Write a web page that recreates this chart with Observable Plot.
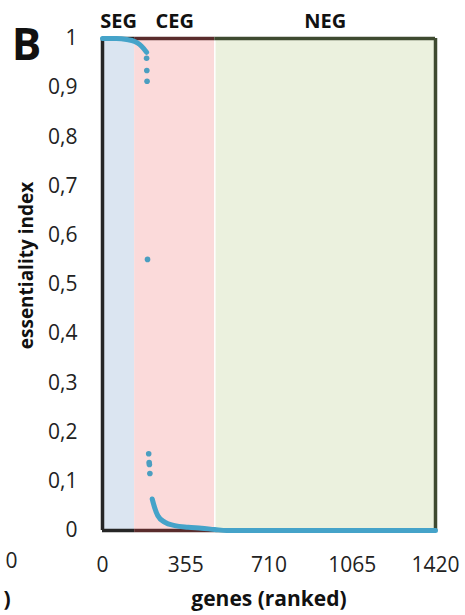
<!DOCTYPE html>
<html><head><meta charset="utf-8">
<script src="https://cdn.jsdelivr.net/npm/d3@7"></script>
<script src="https://cdn.jsdelivr.net/npm/@observablehq/plot@0.6"></script>
<style>body{margin:0;background:#fff;} #chart{width:465px;height:615px;}</style>
</head><body><div id="chart"></div>
<script>
// Regions (gene rank ranges)
const regionNames = ["SEG", "CEG", "NEG"];
const regionStart = [0, 137, 479];
const regionEnd = [137, 479, 1420];
const regionFill = ["#dbe5f1", "#fbdada", "#ebf1de"];
const regionStroke = ["#262626", "#5a2c2c", "#3e4a30"];

// Dense part of the ranked essentiality curve
const curveRank = [0, 60, 103, 137, 158, 175, 188];
const curveValue = [1, 1, 0.998, 0.994, 0.988, 0.98, 0.972];
// Isolated points
const dotRank = [188, 189, 190, 192, 197, 199, 200, 202];
const dotValue = [0.96, 0.935, 0.913, 0.551, 0.156, 0.138, 0.134, 0.116];
// Tail of the curve
const tailRank = [212, 222, 236, 265, 308, 365, 422, 479, 530, 1420];
const tailValue = [0.064, 0.047, 0.03, 0.017, 0.01, 0.0067, 0.0047, 0.002, 0, 0];

const xTicks = [0, 355, 710, 1065, 1420];
const yTicks = [0, 0.1, 0.2, 0.3, 0.4, 0.5, 0.6, 0.7, 0.8, 0.9, 1];
const yTickLabels = ["0", "0,1", "0,2", "0,3", "0,4", "0,5", "0,6", "0,7", "0,8", "0,9", "1"];

const regions = regionNames.map((n, i) => ({name: n, x1: regionStart[i], x2: regionEnd[i], fill: regionFill[i], stroke: regionStroke[i], mid: (regionStart[i] + regionEnd[i]) / 2}));
const curve = curveRank.map((r, i) => ({rank: r, value: curveValue[i]}));
const dots = dotRank.map((r, i) => ({rank: r, value: dotValue[i]}));
const tail = tailRank.map((r, i) => ({rank: r, value: tailValue[i]}));

const font = "'Open Sans', Lato, sans-serif";
const lineColor = "#45a3c9";

const chart = Plot.plot({
  width: 465,
  height: 615,
  marginLeft: 102,
  marginRight: 30,
  marginTop: 38,
  marginBottom: 85,
  style: {fontFamily: font, background: "#fff", color: "#222"},
  x: {domain: [0, 1420], axis: null},
  y: {domain: [0, 1], axis: null},
  marks: [
    Plot.rectX(regions, {x1: "x1", x2: "x2", y1: 0, y2: 1, fill: d => d.fill}),
    Plot.ruleX([479], {y1: 0.004, y2: 0.996, stroke: "#fff", strokeWidth: 1.5}),
    Plot.ruleY(regions, {y: 1, x1: "x1", x2: "x2", stroke: d => d.stroke, strokeWidth: 3.5}),
    Plot.ruleY(regions, {y: 0, x1: "x1", x2: "x2", stroke: d => d.stroke, strokeWidth: 3.5}),
    Plot.ruleX([0], {y1: 0, y2: 1, stroke: regionStroke[0], strokeWidth: 3.5}),
    Plot.ruleX([1420], {y1: 0, y2: 1, stroke: regionStroke[2], strokeWidth: 3.5}),
    Plot.line(curve, {x: "rank", y: "value", stroke: lineColor, strokeWidth: 5, curve: "monotone-x"}),
    Plot.dot(dots, {x: "rank", y: "value", r: 2.8, fill: "#4b9ec0"}),
    Plot.line(tail, {x: "rank", y: "value", stroke: lineColor, strokeWidth: 5, curve: "monotone-x"}),
    Plot.text(regions, {x: "mid", y: 1, text: "name", dy: -17, fontSize: 20, fontWeight: "bold", fill: "#111"}),
    Plot.text(yTicks, {x: 0, y: d => d, text: (d, i) => yTickLabels[i], textAnchor: "end", dx: -25, fontSize: 21, fill: "#222"}),
    Plot.text(xTicks, {x: d => d, y: 0, text: d => String(d), dy: 35, fontSize: 21, fill: "#222"}),
    Plot.text(["essentiality index"], {frameAnchor: "left", textAnchor: "middle", rotate: -90, dx: -76, dy: -19, fontSize: 19, fontWeight: "bold", fill: "#111"}),
    Plot.text(["genes (ranked)"], {frameAnchor: "bottom", dy: 75, fontSize: 21, fontWeight: "bold", fill: "#111"}),
    Plot.text(["B"], {frameAnchor: "top-left", textAnchor: "middle", dx: -76, dy: -10, fontSize: 44, fontWeight: "bold", fill: "#111"}),
    Plot.text(["0"], {frameAnchor: "bottom-left", dx: -97, dy: 37, fontSize: 21, fill: "#222"}),
    Plot.text([")"], {frameAnchor: "bottom-left", dx: -99, dy: 75, fontSize: 21, fontWeight: "bold", fill: "#111"})
  ]
});
document.getElementById("chart").appendChild(chart);
</script>
</body></html>
